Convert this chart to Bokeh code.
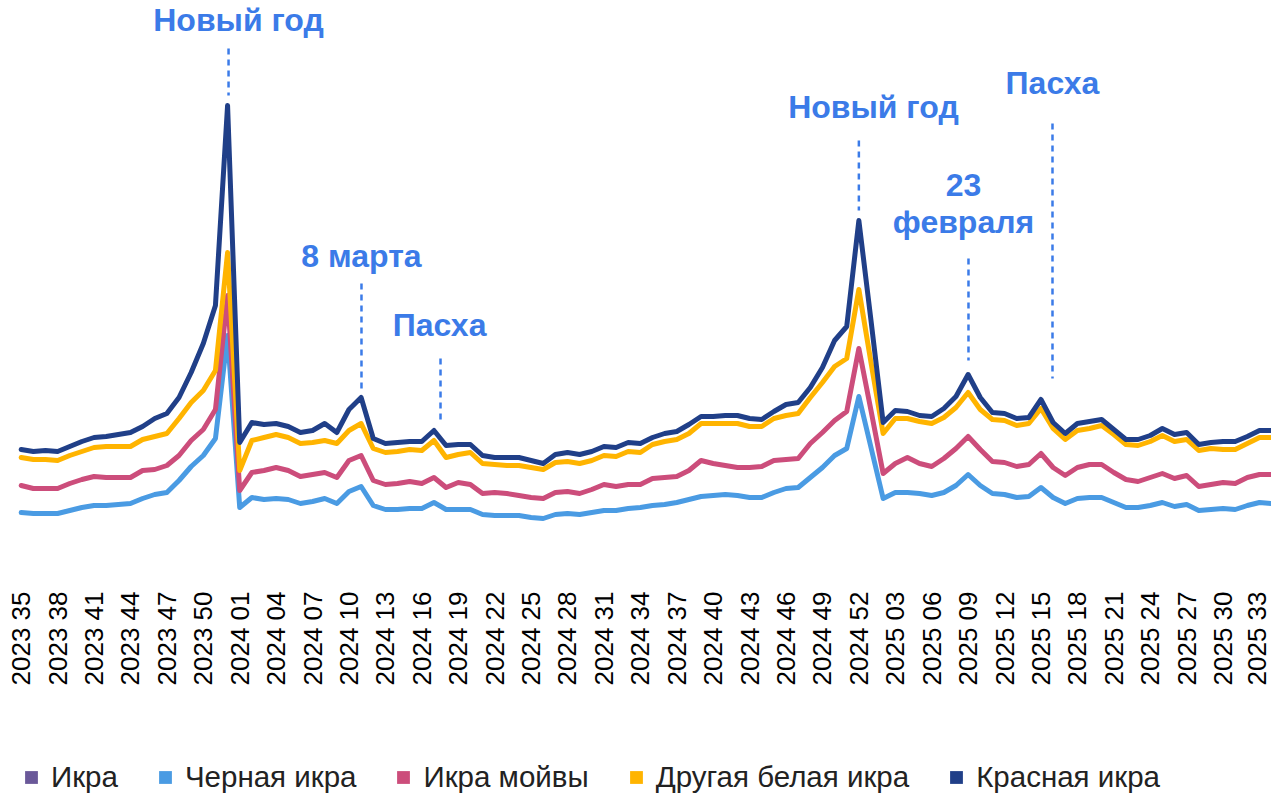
import math
from bokeh.plotting import figure
from bokeh.layouts import column
from bokeh.models import ColumnDataSource, Range1d, FixedTicker, Legend, LegendItem
from bokeh.core.properties import value
from bokeh.embed import file_html
from bokeh.resources import INLINE

# ---------------- data ----------------
weeks = ([f"2023 {w:02d}" for w in range(35, 53)] +
         [f"2024 {w:02d}" for w in range(1, 53)] +
         [f"2025 {w:02d}" for w in range(1, 35)])

red_caviar = [131, 129, 130, 129, 134, 139, 143, 144, 146, 148,
              154, 162, 167, 183, 208, 237, 275, 475, 138, 158,
              156, 157, 154, 148, 150, 157, 148, 171, 183, 142,
              137, 138, 139, 139, 150, 135, 136, 136, 125, 123,
              123, 123, 120, 117, 126, 128, 126, 129, 134, 133,
              138, 137, 143, 147, 149, 156, 164, 164, 165, 165,
              162, 161, 169, 176, 178, 193, 213, 240, 254, 360,
              260, 158, 170, 169, 165, 164, 172, 184, 206, 183,
              168, 167, 162, 163, 181, 158, 147, 157, 159, 161,
              151, 141, 141, 145, 152, 146, 148, 136, 138, 139,
              139, 144, 150, 150]

other_white = [123, 121, 121, 120, 125, 129, 133, 134, 134, 134,
               141, 144, 147, 162, 178, 190, 210, 328, 110, 140,
               143, 146, 143, 137, 138, 140, 137, 150, 157, 132,
               128, 129, 131, 130, 140, 123, 126, 128, 117, 116,
               115, 115, 113, 111, 118, 119, 117, 120, 125, 124,
               129, 128, 136, 139, 141, 147, 157, 157, 157, 157,
               154, 154, 162, 165, 167, 183, 198, 214, 222, 291,
               218, 147, 162, 162, 159, 157, 163, 173, 188, 171,
               161, 160, 155, 157, 172, 152, 141, 150, 152, 155,
               146, 136, 135, 139, 145, 139, 141, 130, 132, 131,
               131, 137, 143, 143]

capelin = [95, 92, 92, 92, 97, 101, 104, 103, 103, 103,
           110, 111, 115, 125, 140, 151, 171, 285, 90, 108,
           110, 113, 110, 104, 106, 108, 103, 120, 125, 100,
           96, 97, 99, 97, 103, 93, 98, 96, 87, 88,
           87, 85, 83, 82, 88, 89, 87, 91, 96, 94,
           96, 96, 102, 103, 104, 110, 120, 117, 115, 113,
           113, 114, 120, 121, 122, 137, 148, 160, 169, 232,
           170, 107, 117, 123, 117, 114, 122, 132, 144, 131,
           119, 118, 114, 116, 127, 113, 105, 113, 116, 116,
           108, 101, 99, 103, 107, 102, 105, 94, 96, 98,
           97, 103, 106, 106]

black = [68, 67, 67, 67, 70, 73, 75, 75, 76, 77,
         82, 86, 88, 100, 114, 125, 142, 245, 73, 83,
         81, 82, 81, 77, 79, 82, 77, 89, 94, 75,
         71, 71, 72, 72, 78, 71, 71, 71, 66, 65,
         65, 65, 63, 62, 66, 67, 66, 68, 70, 70,
         72, 73, 75, 76, 78, 81, 84, 85, 86, 85,
         83, 83, 88, 92, 93, 103, 113, 125, 132, 184,
         133, 82, 88, 88, 87, 85, 88, 95, 106, 95,
         87, 86, 83, 84, 93, 83, 77, 82, 83, 83,
         78, 73, 73, 75, 78, 74, 76, 70, 71, 72,
         71, 75, 78, 77]

series_names = ["Икра", "Черная икра", "Икра мойвы", "Другая белая икра", "Красная икра"]
events = ["Новый год", "8 марта", "Пасха", "Новый год", "23", "февраля", "Пасха"]

# ---------------- layout / style ----------------
colors = {"Икра": "#6a5899", "Черная икра": "#4a9be3", "Икра мойвы": "#cc4d7b",
          "Другая белая икра": "#ffb400", "Красная икра": "#203f88"}
ann_blue = "#3b7be8"
font = "Liberation Sans"

ev_x = [17.9, 28.03, 34.46, 70.2, 77.62, 77.62, 84.95]
ev_y = [561, 325, 256, 474, 396, 359, 498]
mark_x = [17.08, 28.03, 34.54, 69.0, 78.03, 84.95]
mark_top = [532, 297, 222, 440, 322, 457]
mark_bot = [485, 192, 160, 370, 220, 202]

xs = list(range(len(weeks)))
source = ColumnDataSource(dict(x=xs, red=red_caviar, white=other_white,
                               capelin=capelin, black=black))

p = figure(width=1271, height=700, output_backend="svg", toolbar_location=None,
           x_range=Range1d(-1.705, 102.99), y_range=Range1d(0, 580),
           y_axis_location=None, min_border=0, min_border_bottom=120,
           background_fill_color="white", border_fill_color="white")
p.outline_line_color = None
p.grid.visible = False

for col, name in [("black", "Черная икра"), ("capelin", "Икра мойвы"),
                  ("white", "Другая белая икра"), ("red", "Красная икра")]:
    p.line("x", col, source=source, line_width=5, color=colors[name],
           line_join="round", line_cap="round")

p.segment(x0=mark_x, y0=mark_top, x1=mark_x, y1=mark_bot, line_dash="6 5",
          line_width=2.5, color=ann_blue)
p.text(x=ev_x, y=ev_y, text=events, text_font=value(font), text_font_style="bold",
       text_font_size="32px", text_color=ann_blue, text_align="center",
       text_baseline="alphabetic")

ax = p.xaxis[0]
ax.ticker = FixedTicker(ticks=list(range(0, len(weeks), 3)))
ax.major_label_overrides = {i: weeks[i] for i in range(0, len(weeks), 3)}
ax.major_label_orientation = math.pi / 2
ax.major_label_text_font = font
ax.major_label_text_font_size = "26px"
ax.major_label_text_color = "#000000"
ax.major_label_standoff = 5
ax.axis_line_color = None
ax.major_tick_line_color = None
ax.minor_tick_line_color = None

# legend strip
p2 = figure(width=1271, height=96, output_backend="svg", toolbar_location=None,
            x_range=Range1d(0, 1), y_range=Range1d(0, 1),
            x_axis_location=None, y_axis_location=None, min_border=0,
            background_fill_color="white", border_fill_color="white")
p2.outline_line_color = None
p2.grid.visible = False
items = []
for name in series_names:
    # legend swatch only: a single undrawn (NaN) bar per series
    r = p2.vbar(x=[float("nan")], top=[float("nan")], bottom=[0], width=0.5,
                fill_color=colors[name], line_color=None)
    items.append(LegendItem(label=name, renderers=[r]))
legend = Legend(items=items, orientation="horizontal", location=(23, 2),
                padding=0, margin=0, spacing=39, glyph_width=16, glyph_height=16,
                label_standoff=12, label_text_font=font, label_text_font_size="29.5px",
                label_text_color="#222222", background_fill_alpha=0,
                border_line_color=None)
p2.add_layout(legend)

layout = column(p, p2, spacing=0)
open("out.html", "w").write(file_html(layout, INLINE))
